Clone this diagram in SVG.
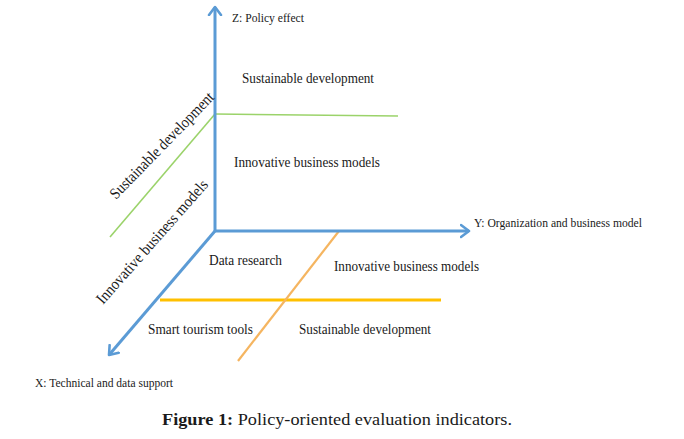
<svg xmlns="http://www.w3.org/2000/svg" width="684" height="439" viewBox="0 0 684 439">
<style>
text{font-family:"Liberation Serif","Times New Roman",serif;fill:#1a1a1a}
.ax{font-size:13px}
.lb{font-size:15.5px}
.rl{font-size:16px}
.axis{stroke:#5B9BD5;stroke-width:3;fill:none}
</style>
<defs>
<marker id="arr" markerUnits="userSpaceOnUse" markerWidth="16" markerHeight="16" refX="9" refY="7" orient="auto" viewBox="0 0 16 14">
<path d="M1,1 L9,7 L1,13" fill="none" stroke="#5B9BD5" stroke-width="2.6" stroke-linecap="round" stroke-linejoin="round"/>
</marker>
</defs>
<rect width="684" height="439" fill="#fff"/>
<g id="connectors">
<line x1="215" y1="114" x2="398" y2="116" stroke="#9BD36A" stroke-width="1.6"/>
<line x1="215" y1="114" x2="110" y2="237" stroke="#9BD36A" stroke-width="1.6"/>
<line x1="160" y1="300" x2="441" y2="300" stroke="#FFC000" stroke-width="3"/>
<line x1="339" y1="231" x2="238" y2="361" stroke="#F5B560" stroke-width="2.2"/>
<line class="axis" x1="215" y1="232" x2="215" y2="7" marker-end="url(#arr)"/>
<line class="axis" x1="214" y1="231" x2="469" y2="231" marker-end="url(#arr)"/>
<line class="axis" x1="215" y1="231" x2="109" y2="355" marker-end="url(#arr)"/>
</g>
<g id="axis-z"><text class="ax" x="232" y="22" textLength="72" lengthAdjust="spacingAndGlyphs">Z: Policy effect</text></g>
<g id="axis-y"><text class="ax" x="474" y="227" textLength="168" lengthAdjust="spacingAndGlyphs">Y: Organization and business model</text></g>
<g id="axis-x"><text class="ax" x="35" y="387" textLength="138" lengthAdjust="spacingAndGlyphs">X: Technical and data support</text></g>
<g id="z-sustainable"><text class="lb" x="242" y="83" textLength="132" lengthAdjust="spacingAndGlyphs">Sustainable development</text></g>
<g id="z-innovative"><text class="lb" x="234" y="167" textLength="146" lengthAdjust="spacingAndGlyphs">Innovative business models</text></g>
<g id="data-research"><text class="lb" x="209" y="265" textLength="73" lengthAdjust="spacingAndGlyphs">Data research</text></g>
<g id="y-innovative"><text class="lb" x="334" y="271" textLength="145" lengthAdjust="spacingAndGlyphs">Innovative business models</text></g>
<g id="smart-tools"><text class="lb" x="148" y="334" textLength="105" lengthAdjust="spacingAndGlyphs">Smart tourism tools</text></g>
<g id="y-sustainable"><text class="lb" x="299" y="334" textLength="132" lengthAdjust="spacingAndGlyphs">Sustainable development</text></g>
<g id="diag-sustainable"><text class="rl" transform="translate(116,200) rotate(-45.8)" textLength="142" lengthAdjust="spacingAndGlyphs">Sustainable development</text></g>
<g id="diag-innovative"><text class="rl" transform="translate(103,305) rotate(-48.5)" textLength="160" lengthAdjust="spacingAndGlyphs">Innovative business models</text></g>
<g id="caption"><text x="162" y="425" font-size="16" textLength="350" lengthAdjust="spacingAndGlyphs"><tspan font-weight="bold">Figure 1:</tspan> Policy-oriented evaluation indicators.</text></g>
</svg>
